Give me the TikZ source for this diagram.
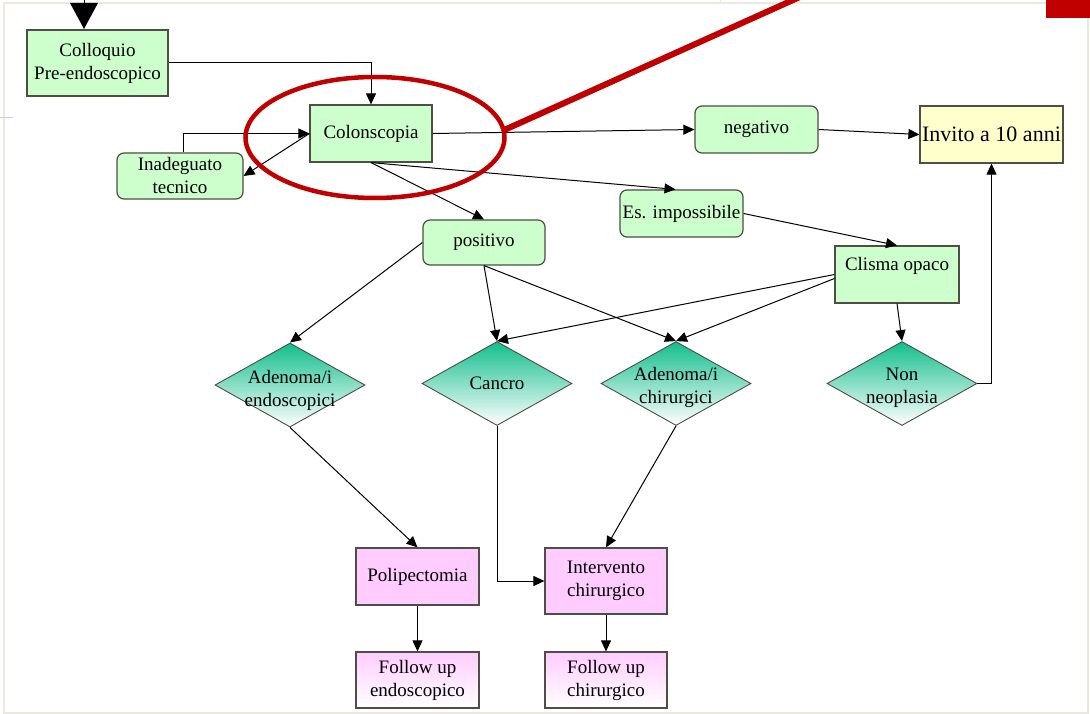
\documentclass[tikz,border=0pt]{standalone}
\usepackage{fontspec}
\setmainfont{Liberation Serif}
\usetikzlibrary{arrows.meta,shapes.geometric,calc}

\definecolor{boxgreen}{HTML}{CCFFCC}
\definecolor{boxyellow}{HTML}{FFFFCC}
\definecolor{boxpink}{HTML}{FFCCFF}
\definecolor{teal}{RGB}{18,190,140}
\definecolor{edgegray}{HTML}{4E4E44}
\definecolor{framebeige}{HTML}{ECE8DC}
\definecolor{markred}{HTML}{C00000}

\newcommand\boxfont{\fontsize{19}{23}\selectfont}
\newcommand\bigboxfont{\fontsize{22}{26}\selectfont}
% a two-line diamond label, moved by #1 without changing the diamond's size
\newcommand\dlabel[2]{\raisebox{#1pt}[0pt][0pt]{\begin{tabular}{@{}c@{}}#2\end{tabular}}}

\tikzset{
  box/.style={draw=edgegray, line width=1.2pt, fill=boxgreen, inner sep=0pt,
    align=center, font=\boxfont},
  roundbox/.style={box, rounded corners=7pt},
  pinkbox/.style={box, fill=boxpink},
  fadebox/.style={box, top color=boxpink, bottom color=white},
  decision/.style={diamond, draw=edgegray, line width=0.9pt, top color=teal,
    bottom color=white, inner sep=0pt, aspect=1.79, minimum width=150pt,
    minimum height=84pt, align=center, font=\boxfont},
  link/.style={-{Triangle[length=11pt,width=10pt]}, line width=1pt, black},
}

\begin{document}
\begin{tikzpicture}[x=1pt,y=-1pt]
\useasboundingbox (0,0) rectangle (1090,714);
\fill[white] (0,0) rectangle (1090,714);

% page frame
\draw[framebeige, line width=1.5pt] (4,3) rectangle (1088,713);
\draw[gray!35, line width=0.8pt] (0,117) -- (13,117);
\draw[framebeige, line width=1pt] (720,0) -- (720,3);
\fill[markred] (1046,0) rectangle (1090,18);

% incoming arrow at the top
\draw[black, line width=0.8pt] (84,0) -- (84,4);
\fill[black] (70,3) -- (98,3) -- (84,29) -- cycle;

% nodes
\node[box, minimum width=141pt, minimum height=66pt] (colloquio) at (97.5,63) {Colloquio\\Pre-endoscopico};
\node[box, minimum width=122pt, minimum height=57pt] (colon) at (371,133.5) {Colonscopia};
\node[roundbox, minimum width=126pt, minimum height=46pt] (inadeg) at (180,176) {Inadeguato\\tecnico};
\node[roundbox, minimum width=123pt, minimum height=47pt] (negativo) at (756.5,129.5) {negativo};
\node[box, fill=boxyellow, minimum width=143pt, minimum height=57pt, font=\bigboxfont] (invito) at (991.5,134.5) {Invito a 10 anni};
\node[roundbox, minimum width=123pt, minimum height=47pt] (esimp) at (681.5,213.5) {Es. impossibile};
\node[roundbox, minimum width=122pt, minimum height=45pt] (positivo) at (484,242.5) {positivo};
\node[box, minimum width=124pt, minimum height=57pt, text depth=22pt] (clisma) at (897,274.5) {Clisma opaco};

\node[decision] (adendo) at (290,385) {\dlabel{-10}{Adenoma/i\\endoscopici}};
\node[decision] (cancro) at (497,383.5) {Cancro};
\node[decision] (adchir) at (676,383.5) {\dlabel{-8}{Adenoma/i\\chirurgici}};
\node[decision] (nonneo) at (902,383.5) {\dlabel{-8}{Non\\neoplasia}};

\node[pinkbox, minimum width=123pt, minimum height=57pt] (polip) at (417.5,576.5) {Polipectomia};
\node[pinkbox, minimum width=122pt, minimum height=66pt] (interv) at (606,581) {Intervento\\chirurgico};
\node[fadebox, minimum width=123pt, minimum height=56pt] (fuendo) at (417.5,680) {Follow up\\endoscopico};
\node[fadebox, minimum width=122pt, minimum height=56pt] (fuchir) at (606,680) {Follow up\\chirurgico};

% connectors
\draw[link] (colloquio.east) -| (colon.north);
\draw[link] ($(inadeg.north)+(3,0)$) |- (colon.west);
\draw[link] (colon.west) -- (inadeg.east);
\draw[link] (colon.east) -- (negativo.west);
\draw[link] (negativo.east) -- (invito.west);
\draw[link] (colon.south) -- (positivo.north);
\draw[link] (colon.south) -- ($(esimp.north)+(-6,0)$);
\draw[link] (esimp.east) -- (clisma.north);
\draw[link] (positivo.west) -- (adendo.north);
\draw[link] (positivo.south) -- (cancro.north);
\draw[link] (positivo.south) -- (adchir.north);
\draw[link] (clisma.west) -- (cancro.north);
\draw[link] ($(clisma.west)+(0,4)$) -- (adchir.north);
\draw[link] (clisma.south) -- (nonneo.north);
\draw[link] (nonneo.east) -| (invito.south);
\draw[link] (adendo.south) -- (polip.north);
\draw[link] (cancro.south) |- (interv.west);
\draw[link] (adchir.south) -- (interv.north);
\draw[link] (polip.south) -- (fuendo.north);
\draw[link] (interv.south) -- (fuchir.north);

% red highlight around the colonoscopy step
\coordinate (ringedge) at (502,131);
\coordinate (ringout) at (802,-4);
\draw[markred, line width=4.5pt] (375,137.5) ellipse [x radius=129.5, y radius=60.5];
\draw[markred, line width=6pt] (ringedge) -- (ringout);
\end{tikzpicture}
\end{document}
